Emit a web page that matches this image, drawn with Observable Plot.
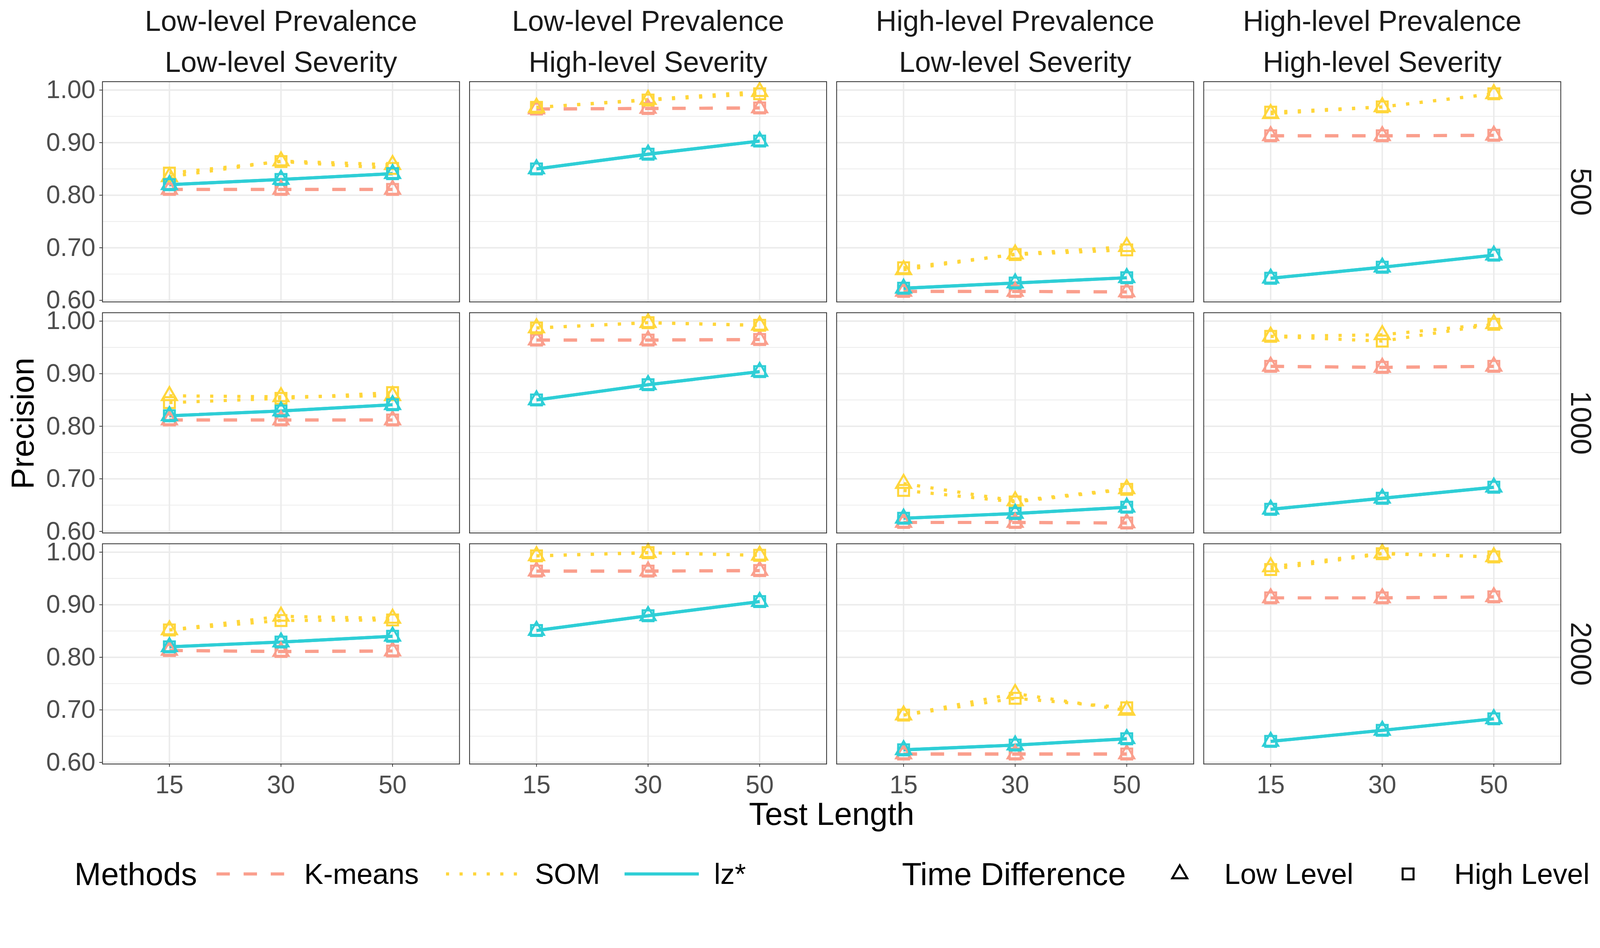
<!DOCTYPE html>
<html>
<head>
<meta charset="utf-8">
<script src="https://cdn.jsdelivr.net/npm/d3@7"></script>
<script src="https://cdn.jsdelivr.net/npm/@observablehq/plot@0.6"></script>
<style>
html, body { margin: 0; padding: 0; background: #ffffff; width: 100%; height: 100%; overflow: hidden; }
#stage { position: relative; width: 100vw; height: 100vh; overflow: hidden; background: #ffffff; }
#wrap { position: absolute; left: 0; top: 0; width: 4302px; height: 2426px; transform-origin: 0 0;
  font-family: "Liberation Sans", Arial, Helvetica, sans-serif; color: #000; overflow: hidden; background: #ffffff; }
#wrap svg { display: block; }
.ov { position: absolute; white-space: nowrap; line-height: 1; }
</style>
</head>
<body>
<div id="stage"><div id="wrap"></div></div>
<script>
// ---------- DATA ----------
const sampleSizes = ["500", "1000", "2000"];
const conditions = [
  "Low-level Prevalence\nLow-level Severity",
  "Low-level Prevalence\nHigh-level Severity",
  "High-level Prevalence\nLow-level Severity",
  "High-level Prevalence\nHigh-level Severity"
];
const testLengths = ["15", "30", "50"];
const methods = ["K-means", "SOM", "lz*"];
const timeLevels = ["Low Level", "High Level"];
const methodColors = ["#FA9F8D", "#FFD63B", "#2ECED6"];
const yMajorTicks = [0.6, 0.7, 0.8, 0.9, 1.0];
const yMinorTicks = [0.65, 0.75, 0.85, 0.95];

// values: [sample size][condition][test length]
const kmeansLow = [
  [[0.811, 0.811, 0.811], [0.964, 0.965, 0.966], [0.617, 0.617, 0.616], [0.913, 0.913, 0.914]],
  [[0.812, 0.812, 0.812], [0.964, 0.964, 0.965], [0.617, 0.617, 0.616], [0.914, 0.912, 0.914]],
  [[0.813, 0.811, 0.812], [0.964, 0.964, 0.965], [0.616, 0.616, 0.616], [0.913, 0.913, 0.915]]
];
const kmeansHigh = [
  [[0.811, 0.811, 0.811], [0.964, 0.965, 0.966], [0.617, 0.617, 0.616], [0.913, 0.913, 0.914]],
  [[0.812, 0.812, 0.812], [0.964, 0.964, 0.965], [0.617, 0.617, 0.616], [0.914, 0.912, 0.914]],
  [[0.813, 0.811, 0.812], [0.964, 0.964, 0.965], [0.616, 0.616, 0.616], [0.913, 0.913, 0.915]]
];
const somLow = [
  [[0.835, 0.865, 0.858], [0.967, 0.982, 0.997], [0.658, 0.688, 0.702], [0.955, 0.968, 0.993]],
  [[0.858, 0.856, 0.858], [0.987, 0.997, 0.992], [0.691, 0.658, 0.681], [0.971, 0.974, 0.995]],
  [[0.852, 0.878, 0.874], [0.993, 0.999, 0.994], [0.690, 0.731, 0.699], [0.972, 0.998, 0.991]]
];
const somHigh = [
  [[0.842, 0.864, 0.851], [0.967, 0.981, 0.993], [0.662, 0.687, 0.696], [0.958, 0.968, 0.993]],
  [[0.845, 0.853, 0.864], [0.987, 0.997, 0.992], [0.678, 0.656, 0.680], [0.971, 0.962, 0.994]],
  [[0.852, 0.870, 0.871], [0.993, 0.999, 0.994], [0.690, 0.722, 0.704], [0.967, 0.997, 0.991]]
];
const lzLow = [
  [[0.820, 0.830, 0.841], [0.850, 0.878, 0.903], [0.623, 0.633, 0.643], [0.642, 0.663, 0.686]],
  [[0.820, 0.829, 0.841], [0.850, 0.879, 0.904], [0.625, 0.634, 0.646], [0.642, 0.663, 0.684]],
  [[0.820, 0.829, 0.840], [0.851, 0.879, 0.906], [0.624, 0.633, 0.645], [0.640, 0.661, 0.683]]
];
const lzHigh = [
  [[0.820, 0.830, 0.841], [0.850, 0.878, 0.903], [0.623, 0.633, 0.643], [0.642, 0.663, 0.686]],
  [[0.820, 0.829, 0.841], [0.850, 0.879, 0.904], [0.625, 0.634, 0.646], [0.642, 0.663, 0.684]],
  [[0.820, 0.829, 0.840], [0.851, 0.879, 0.906], [0.624, 0.633, 0.645], [0.640, 0.661, 0.683]]
];

// ---------- TABLE ----------
const seriesValues = {
  "K-means": {"Low Level": kmeansLow, "High Level": kmeansHigh},
  "SOM": {"Low Level": somLow, "High Level": somHigh},
  "lz*": {"Low Level": lzLow, "High Level": lzHigh}
};
const rows = [];
methods.forEach(m => timeLevels.forEach(t => sampleSizes.forEach((s, i) => conditions.forEach((c, j) => testLengths.forEach((l, k) => {
  rows.push({method: m, time: t, size: s, cond: c, len: l, value: seriesValues[m][t][i][j][k]});
})))));

// ---------- STYLE ----------
const FONT = '"Liberation Sans", Arial, Helvetica, sans-serif';
const dashes = {"K-means": "36,37", "SOM": "8.5,28", "lz*": null};
const LINE_W = 8.5;
const TRI_R = 15;
const SQ_R = 16.5;
const PT_W = 5.5;

const W = 4302, H = 2260;

const lineMarks = methods.map(m => Plot.line(rows.filter(d => d.method === m), {
  fx: "cond", fy: "size", x: "len", y: "value", z: "time",
  stroke: "method", strokeWidth: LINE_W,
  strokeDasharray: dashes[m] || undefined,
  strokeLinecap: "butt", strokeLinejoin: "round"
}));

const dotMarks = [];
methods.forEach(m => {
  dotMarks.push(Plot.dot(rows.filter(d => d.method === m && d.time === "Low Level"), {
    fx: "cond", fy: "size", x: "len", y: "value",
    symbol: "triangle", r: TRI_R, fill: "none", stroke: "method", strokeWidth: PT_W
  }));
  dotMarks.push(Plot.dot(rows.filter(d => d.method === m && d.time === "High Level"), {
    fx: "cond", fy: "size", x: "len", y: "value",
    symbol: "square", r: SQ_R, fill: "none", stroke: "method", strokeWidth: PT_W
  }));
});

const stripTop = conditions.map(c => ({cond: c, size: sampleSizes[0]}));
const stripRight = sampleSizes.map(s => ({cond: conditions[conditions.length - 1], size: s}));

const chart = Plot.plot({
  width: W, height: H,
  marginTop: 219, marginBottom: H - 2053, marginLeft: 274, marginRight: W - 4198,
  style: {fontFamily: FONT, background: "#ffffff", overflow: "visible"},
  fx: {domain: conditions, paddingInner: 0.027, paddingOuter: 0, axis: null},
  fy: {domain: sampleSizes, paddingInner: 0.047, paddingOuter: 0, axis: null},
  x: {type: "point", domain: testLengths, padding: 0.6, axis: null},
  y: {domain: [0.597, 1.016], axis: null},
  color: {domain: methods, range: methodColors},
  marks: [
    Plot.gridY(yMinorTicks, {stroke: "#EBEBEB", strokeOpacity: 1, strokeWidth: 2}),
    Plot.gridY(yMajorTicks, {stroke: "#EBEBEB", strokeOpacity: 1, strokeWidth: 4}),
    Plot.gridX(testLengths, {stroke: "#EBEBEB", strokeOpacity: 1, strokeWidth: 4}),
    ...lineMarks,
    ...dotMarks,
    Plot.frame({stroke: "#333333", strokeWidth: 2.2}),
    Plot.axisY({anchor: "left", ticks: yMajorTicks, tickFormat: d3.format(".2f"), fontSize: 68,
      tickSize: 8, tickPadding: 11, stroke: "#333333", strokeWidth: 2, fill: "#4D4D4D", label: null}),
    Plot.axisX({anchor: "bottom", fontSize: 68, tickSize: 8, tickPadding: 22,
      stroke: "#333333", strokeWidth: 2, fill: "#4D4D4D", label: null}),
    Plot.text(stripTop, {fx: "cond", fy: "size", text: "cond", frameAnchor: "top", dy: -117,
      lineAnchor: "middle", lineHeight: 1.43, fontSize: 77, fill: "#1A1A1A"}),
    Plot.text(stripRight, {fx: "cond", fy: "size", text: "size", frameAnchor: "right", dx: 52,
      rotate: 90, lineAnchor: "middle", textAnchor: "middle", fontSize: 77, fill: "#1A1A1A"})
  ]
});

const wrap = document.getElementById("wrap");
wrap.appendChild(chart);

// ---------- AXIS TITLES ----------
function overlay(text, left, top, size, extra) {
  const d = document.createElement("div");
  d.className = "ov";
  d.textContent = text;
  d.style.left = left + "px";
  d.style.top = top + "px";
  d.style.fontSize = size + "px";
  d.style.transform = extra || "translate(0,-50%)";
  wrap.appendChild(d);
  return d;
}
overlay("Test Length", 2236, 2187, 86, "translate(-50%,-50%)");
overlay("Precision", 60, 1138, 86, "translate(-50%,-50%) rotate(-90deg)");

// ---------- LEGEND ----------
const LEG_Y = 2349;
overlay("Methods", 200, LEG_Y, 86);
const keyLefts = [582, 1199, 1679];
const labelLefts = [818, 1438, 1920];
const NS = "http://www.w3.org/2000/svg";
methods.forEach((m, i) => {
  const svg = document.createElementNS(NS, "svg");
  svg.setAttribute("width", 200); svg.setAttribute("height", 40);
  svg.style.position = "absolute";
  svg.style.left = keyLefts[i] + "px";
  svg.style.top = (LEG_Y - 20) + "px";
  const ln = document.createElementNS(NS, "line");
  ln.setAttribute("x1", 0); ln.setAttribute("x2", 200);
  ln.setAttribute("y1", 20); ln.setAttribute("y2", 20);
  ln.setAttribute("stroke", methodColors[i]);
  ln.setAttribute("stroke-width", LINE_W);
  if (dashes[m]) ln.setAttribute("stroke-dasharray", dashes[m]);
  svg.appendChild(ln);
  wrap.appendChild(svg);
  overlay(m, labelLefts[i], LEG_Y, 77);
});
overlay("Time Difference", 2425, LEG_Y, 86);
const symCenters = [3172, 3786];
const symTypes = [d3.symbolTriangle, d3.symbolSquare];
const symR = [TRI_R, SQ_R];
const symLabelLefts = [3292, 3910];
timeLevels.forEach((t, i) => {
  const svg = document.createElementNS(NS, "svg");
  svg.setAttribute("width", 80); svg.setAttribute("height", 80);
  svg.style.position = "absolute";
  svg.style.left = (symCenters[i] - 40) + "px";
  svg.style.top = (LEG_Y - 40) + "px";
  const p = document.createElementNS(NS, "path");
  p.setAttribute("d", d3.symbol(symTypes[i], Math.PI * symR[i] * symR[i])());
  p.setAttribute("transform", "translate(40,40)");
  p.setAttribute("fill", "none");
  p.setAttribute("stroke", "#000");
  p.setAttribute("stroke-width", PT_W);
  svg.appendChild(p);
  wrap.appendChild(svg);
  overlay(t, symLabelLefts[i], LEG_Y, 77);
});

// ---------- FIT TO WINDOW (uniform scale, keeps the aspect ratio) ----------
function fit() {
  const k = Math.min(window.innerWidth / 4302, window.innerHeight / 2426);
  wrap.style.transform = "scale(" + k + ")";
}
fit();
window.addEventListener("resize", fit);
</script>
</body>
</html>
